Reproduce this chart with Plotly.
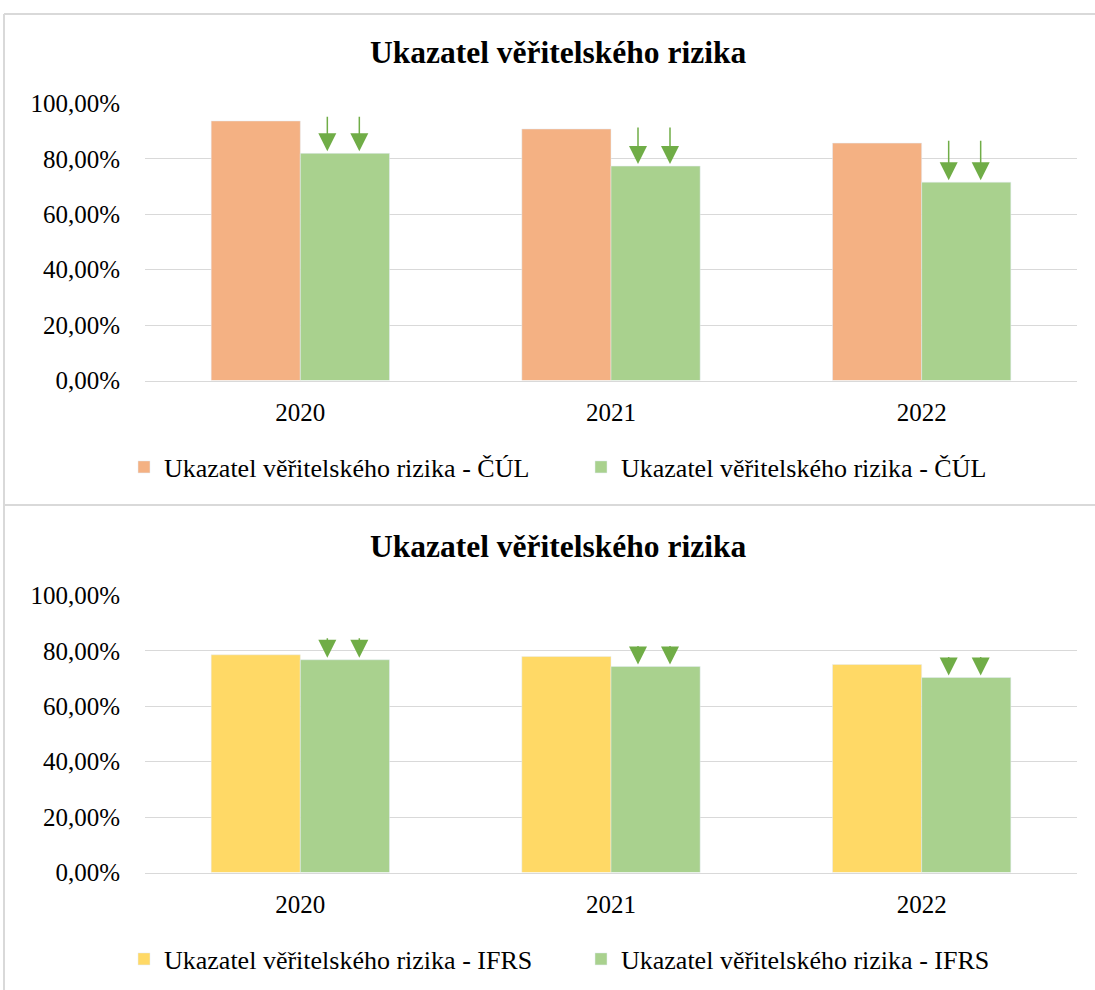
import plotly.graph_objects as go

years = ["2020", "2021", "2022"]
cul_before = [0.937, 0.908, 0.857]
cul_after = [0.820, 0.774, 0.716]
ifrs_before = [0.786, 0.780, 0.751]
ifrs_after = [0.768, 0.744, 0.704]

title_text = "Ukazatel věřitelského rizika"
cul_name = "Ukazatel věřitelského rizika - ČÚL"
ifrs_name = "Ukazatel věřitelského rizika - IFRS"

ORANGE = "#F4B183"
GREEN = "#A9D18E"
YELLOW = "#FFD966"
ARROW = "#70AD47"
GRID = "#D9D9D9"
FONT = "Liberation Serif"

W, H = 1095, 990


def py(px):
    # pixel from top -> paper fraction
    return 1 - px / H


fig = go.Figure()

fig.add_trace(go.Bar(x=years, y=cul_before, name=cul_name, marker_color=ORANGE,
                     xaxis="x", yaxis="y", legend="legend"))
fig.add_trace(go.Bar(x=years, y=cul_after, name=cul_name, marker_color=GREEN,
                     xaxis="x", yaxis="y", legend="legend"))
fig.add_trace(go.Bar(x=years, y=ifrs_before, name=ifrs_name, marker_color=YELLOW,
                     xaxis="x2", yaxis="y2", legend="legend2"))
fig.add_trace(go.Bar(x=years, y=ifrs_after, name=ifrs_name, marker_color=GREEN,
                     xaxis="x2", yaxis="y2", legend="legend2"))

xdom = [145 / W, 1077 / W]
axis_font = dict(family=FONT, size=25, color="#000000")
yax = dict(range=[0, 1], dtick=0.2, tickformat=".2%", showgrid=True,
           gridcolor=GRID, gridwidth=1, zeroline=False, showline=False,
           tickfont=axis_font, ticklabelstandoff=24, fixedrange=True)
xax = dict(type="category", range=[-0.5, len(years) - 0.5], domain=xdom,
           showline=True, linecolor=GRID, linewidth=1,
           tickfont=axis_font, ticks="", ticklabelstandoff=9, fixedrange=True)
legend_font = dict(family=FONT, size=26, color="#000000")

fig.update_layout(
    width=W, height=H,
    margin=dict(l=0, r=0, t=0, b=0, autoexpand=False),
    paper_bgcolor="white", plot_bgcolor="white",
    separators=", ",
    barmode="group", bargap=0.426, bargroupgap=0,
    showlegend=True,
    font=dict(family=FONT, color="#000000"),
    xaxis=dict(xax, anchor="y"),
    yaxis=dict(yax, domain=[py(380.5), py(103.5)], anchor="x"),
    xaxis2=dict(xax, anchor="y2"),
    yaxis2=dict(yax, domain=[py(872.5), py(595.5)], anchor="x2"),
    legend=dict(orientation="h", x=124 / W, xanchor="left", y=py(467), yanchor="middle",
                entrywidth=412, entrywidthmode="pixels",
                font=legend_font, bgcolor="rgba(0,0,0,0)"),
    legend2=dict(orientation="h", x=124 / W, xanchor="left", y=py(959), yanchor="middle",
                 entrywidth=412, entrywidthmode="pixels",
                 font=legend_font, bgcolor="rgba(0,0,0,0)"),
)

# titles
for ty in (52, 546):
    fig.add_annotation(text="<b>" + title_text + "</b>", xref="paper", yref="paper",
                       x=558 / W, y=py(ty), xanchor="center", yanchor="middle",
                       showarrow=False, font=dict(family=FONT, size=31.5, color="#000000"))

# down arrows over the second bar of each pair
top_lengths = [36, 38, 41]
bottom_lengths = [21, 20, 20]
for axes, vals, lengths in (("", cul_after, top_lengths), ("2", ifrs_after, bottom_lengths)):
    for i, (v, ln) in enumerate(zip(vals, lengths)):
        for shift in (27, 59):
            fig.add_annotation(x=i, y=v, xref="x" + axes, yref="y" + axes,
                               xshift=shift, yshift=2, ax=0, ay=-ln,
                               showarrow=True, arrowhead=2, arrowsize=2.4, arrowwidth=1.5,
                               arrowcolor=ARROW, text="")

# chart frames
frame = dict(type="line", xref="paper", yref="paper", line=dict(color=GRID, width=2))
fig.add_shape(frame, x0=4 / W, x1=1.05, y0=py(14), y1=py(14))
fig.add_shape(frame, x0=4 / W, x1=1.05, y0=py(505), y1=py(505))
fig.add_shape(frame, x0=4 / W, x1=4 / W, y0=py(14), y1=-0.05)

fig.write_html("out.html", config={"displayModeBar": False},
               post_script="document.body.style.margin='0px';")
